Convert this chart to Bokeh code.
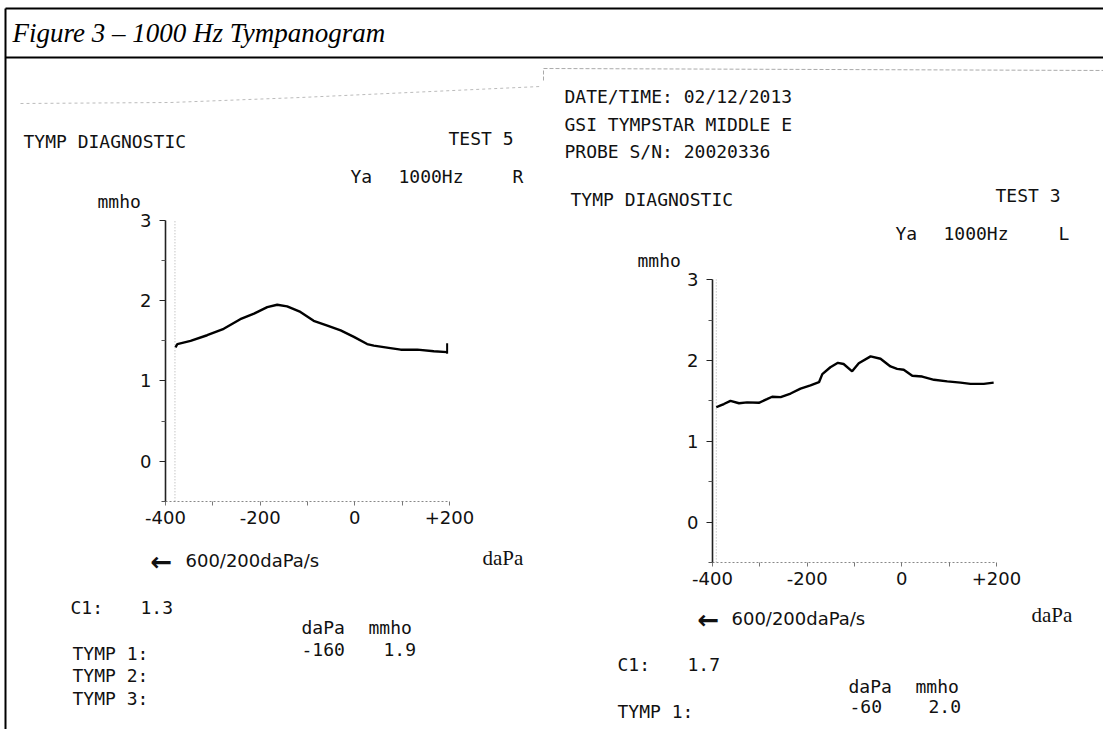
from bokeh.plotting import figure
from bokeh.models import Range1d, LinearAxis, FixedTicker
from bokeh.embed import file_html
from bokeh.resources import INLINE
from bokeh.core.properties import value

# ---------------- data ----------------
pressure_ticks = [-400, -200, 0, 200]
pressure_tick_labels = ["-400", "-200", "0", "+200"]
pressure_minor_ticks = [-300, -100, 100]
admittance_ticks = [0, 1, 2, 3]
admittance_tick_labels = ["0", "1", "2", "3"]
admittance_minor_ticks = [-0.5, 0.5, 1.5, 2.5]

# left printout: right ear (R), TEST 5
r_pressure = [-379, -375, -347, -312, -277, -242, -213, -185, -164, -143, -115,
              -87, -58, -30, -2, 26, 40, 75, 97, 132, 167, 195]
r_admittance = [1.42, 1.46, 1.50, 1.57, 1.65, 1.77, 1.84, 1.92, 1.95, 1.93, 1.86,
                1.75, 1.69, 1.63, 1.55, 1.46, 1.44, 1.41, 1.39, 1.39, 1.37, 1.36]
r_end_pressure = 195
r_end_marker = [1.34, 1.47]
r_grid_pressure = -380

# right printout: left ear (L), TEST 3
l_pressure = [-392, -384, -376, -362, -344, -327, -302, -285, -274, -256, -235,
              -214, -193, -175, -168, -151, -135, -123, -105, -91, -66, -45,
              -24, -10, 4, 22, 43, 68, 96, 124, 145, 173, 194]
l_admittance = [1.42, 1.44, 1.46, 1.50, 1.47, 1.48, 1.475, 1.52, 1.55, 1.545, 1.59,
                1.65, 1.69, 1.73, 1.83, 1.915, 1.97, 1.955, 1.865, 1.965, 2.05, 2.02,
                1.925, 1.895, 1.885, 1.81, 1.80, 1.76, 1.74, 1.725, 1.71, 1.71, 1.725]
l_grid_pressure = -392

axis_range_adm = (-0.5, 3)
axis_range_pressure = (-400, 200)

title_text = "Figure 3 \u2013 1000 Hz Tympanogram"
header_lines = ["DATE/TIME: 02/12/2013", "GSI TYMPSTAR MIDDLE E", "PROBE S/N: 20020336"]
r_results = {"test": "TEST 5", "ear": "R", "c1": "1.3", "tymp": [("-160", "1.9")]}
l_results = {"test": "TEST 3", "ear": "L", "c1": "1.7", "tymp": [("-60", "2.0")]}

# ---------------- layout ----------------
W, H = 1103, 729
X0, Y0 = 0, 0
MONO = "DejaVu Sans Mono"
SANS = "DejaVu Sans"
SERIF = "Liberation Serif"

p = figure(width=W, height=H, x_range=Range1d(X0, X0 + W), y_range=Range1d(Y0 + H, Y0),
           x_axis_location=None, y_axis_location=None, toolbar_location=None,
           output_backend="svg", min_border=0, outline_line_color=None,
           background_fill_color="white", border_fill_color="white")
p.grid.visible = False


def panel_ranges(name, x_min_px, x_max_px, y_zero_px, px_per_unit):
    k = (x_max_px - x_min_px) / (axis_range_pressure[1] - axis_range_pressure[0])
    d0 = axis_range_pressure[0]
    p.extra_x_ranges[name + "x"] = Range1d(d0 + (X0 - x_min_px) / k, d0 + (X0 + W - x_min_px) / k)
    p.extra_y_ranges[name + "y"] = Range1d((y_zero_px - (Y0 + H)) / px_per_unit, (y_zero_px - Y0) / px_per_unit)
    return name + "x", name + "y"


def add_axes(xr, yr):
    yax = LinearAxis(x_range_name=xr, y_range_name=yr, fixed_location=axis_range_pressure[0],
                     bounds=axis_range_adm,
                     ticker=FixedTicker(ticks=admittance_ticks, minor_ticks=admittance_minor_ticks),
                     major_label_overrides=dict(zip(admittance_ticks, admittance_tick_labels)))
    yax.axis_line_color = "#222"
    yax.axis_line_width = 1.6
    yax.major_tick_line_color = "#222"
    yax.minor_tick_line_color = "#555"
    yax.major_tick_out, yax.major_tick_in = 6, 0
    yax.minor_tick_out, yax.minor_tick_in = 4, 0
    yax.major_label_standoff = 8
    yax.major_label_text_font = SANS
    yax.major_label_text_font_size = "18px"
    yax.major_label_text_color = "#111"
    p.add_layout(yax, "left")

    xax = LinearAxis(x_range_name=xr, y_range_name=yr, fixed_location=axis_range_adm[0],
                     bounds=axis_range_pressure,
                     ticker=FixedTicker(ticks=pressure_ticks, minor_ticks=pressure_minor_ticks),
                     major_label_overrides=dict(zip(pressure_ticks, pressure_tick_labels)))
    xax.axis_line_color = "#888"
    xax.axis_line_dash = "2 2"
    xax.axis_line_width = 1
    xax.major_tick_line_color = "#777"
    xax.minor_tick_line_color = "#777"
    xax.major_tick_out, xax.major_tick_in = 4, 0
    xax.minor_tick_out, xax.minor_tick_in = 4, 0
    xax.major_label_standoff = 6
    xax.major_label_text_font = SANS
    xax.major_label_text_font_size = "18px"
    xax.major_label_text_color = "#111"
    p.add_layout(xax, "below")


def put(x, y, s, font=MONO, size="18px", style="normal", color="#111"):
    p.text(x=[x], y=[y], text=[s], text_font=value(font), text_font_size=size,
           text_font_style=style, text_align="left", text_baseline="alphabetic",
           text_color=color)


# frame of the document figure
p.segment(x0=[5, 5, 5], y0=[8, 8, 57], x1=[5, X0 + W, X0 + W], y1=[Y0 + H, 8, 57],
          line_color="black", line_width=2)
put(12, 32, title_text, font=SERIF, size="27px", style="italic", color="black")

# faint scan edges of the printouts
p.line(x=[20, 170, 300, 540], y=[103, 102, 97, 86], line_color="#bbb", line_dash="3 3", line_width=1)
p.line(x=[543, 543, 1110], y=[80, 68, 70], line_color="#aaa", line_dash="4 2", line_width=1)

# ---------- left printout (R) ----------
lx, ly = panel_ranges("r", 165, 449, 460.7, 80.23)
add_axes(lx, ly)
p.segment(x0=[r_grid_pressure], y0=[axis_range_adm[0]], x1=[r_grid_pressure], y1=[axis_range_adm[1]],
          x_range_name=lx, y_range_name=ly, line_color="#aaa", line_dash="1 2", line_width=1)
p.line(r_pressure, r_admittance, x_range_name=lx, y_range_name=ly, line_color="black", line_width=2.4)
p.segment(x0=[r_end_pressure], y0=[r_end_marker[0]], x1=[r_end_pressure], y1=[r_end_marker[1]],
          x_range_name=lx, y_range_name=ly, line_color="black", line_width=2)

put(23, 141, "TYMP DIAGNOSTIC")
put(448, 138, r_results["test"])
put(350, 176, "Ya")
put(398, 176, "1000Hz")
put(512, 176, r_results["ear"])
put(97, 201, "mmho")
put(150, 561, "\u2190", font=SANS, size="26px", style="bold")
put(185, 560, "600/200daPa/s", font=SANS, size="18px")
put(482, 557, "daPa", font=SERIF, size="21px")
put(70, 607, "C1:")
put(140, 607, r_results["c1"])
put(301, 627, "daPa")
put(368, 627, "mmho")
put(301, 649, r_results["tymp"][0][0])
put(383, 649, r_results["tymp"][0][1])
put(72, 653, "TYMP 1:")
put(72, 675, "TYMP 2:")
put(72, 698, "TYMP 3:")

# ---------- right printout (L) ----------
rx, ry = panel_ranges("l", 712, 996, 521.5, 80.8)
add_axes(rx, ry)
p.segment(x0=[l_grid_pressure], y0=[axis_range_adm[0]], x1=[l_grid_pressure], y1=[axis_range_adm[1]],
          x_range_name=rx, y_range_name=ry, line_color="#aaa", line_dash="1 2", line_width=1)
p.line(l_pressure, l_admittance, x_range_name=rx, y_range_name=ry, line_color="black", line_width=2.4)

put(564, 96, header_lines[0])
put(564, 124, header_lines[1])
put(564, 151, header_lines[2])
put(570, 199, "TYMP DIAGNOSTIC")
put(995, 195, l_results["test"])
put(895, 233, "Ya")
put(943, 233, "1000Hz")
put(1058, 233, l_results["ear"])
put(637, 260, "mmho")
put(697, 619, "\u2190", font=SANS, size="26px", style="bold")
put(731, 618, "600/200daPa/s", font=SANS, size="18px")
put(1031, 614, "daPa", font=SERIF, size="21px")
put(617, 664, "C1:")
put(687, 664, l_results["c1"])
put(848, 686, "daPa")
put(915, 686, "mmho")
put(849, 706, l_results["tymp"][0][0])
put(928, 706, l_results["tymp"][0][1])
put(617, 711, "TYMP 1:")

open("out.html", "w").write(file_html(p, INLINE))
